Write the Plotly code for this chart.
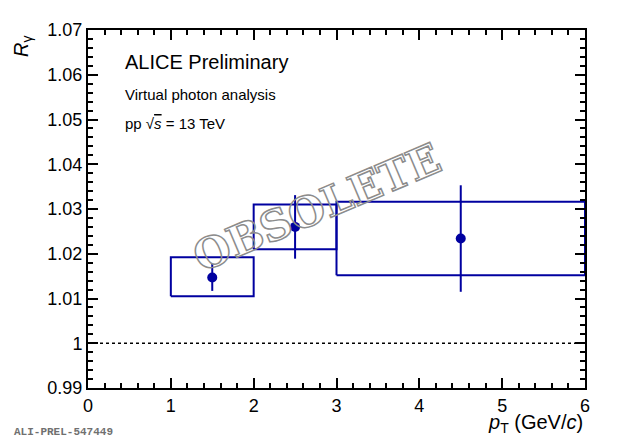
import plotly.graph_objects as go

# data
pt_center = [1.5, 2.5, 4.5]
pt_lo = [1.0, 2.0, 3.0]
pt_hi = [2.0, 3.0, 6.0]
r_gamma = [1.0147, 1.0260, 1.0234]
stat_err = [0.0030, 0.0071, 0.0119]
syst_lo = [1.0105, 1.0210, 1.0152]
syst_hi = [1.0192, 1.0310, 1.0316]

y_ticks = [0.99, 1.0, 1.01, 1.02, 1.03, 1.04, 1.05, 1.06, 1.07]
y_labels = ["0.99", "1", "1.01", "1.02", "1.03", "1.04", "1.05", "1.06", "1.07"]

blue = "#0000a0"
font = "Liberation Sans"
mono = "Liberation Mono"

# turn the watermark into hollow outlined letters (like ROOT's outline font)
outline_js = """
var gd = document.getElementById('{plot_id}');
function outline() {
  gd.querySelectorAll('.annotation-text').forEach(function (t) {
    if (t.textContent === 'OBSOLETE') {
      t.style.fill = 'none';
      t.style.stroke = '#8c8c8c';
      t.style.strokeWidth = '1.5px';
    }
  });
}
outline();
gd.on('plotly_afterplot', outline);
"""


def main():
    # systematic boxes as closed rectangles
    bx, by = [], []
    for lo, hi, ylo, yhi in zip(pt_lo, pt_hi, syst_lo, syst_hi):
        bx += [lo, hi, hi, lo, lo, None]
        by += [ylo, ylo, yhi, yhi, ylo, None]

    fig = go.Figure()

    fig.add_trace(go.Scatter(x=[0, 6], y=[1, 1], mode="lines",
                             line=dict(color="black", width=1.5, dash="dot"),
                             hoverinfo="skip"))
    fig.add_trace(go.Scatter(x=bx, y=by, mode="lines",
                             line=dict(color=blue, width=2)))
    fig.add_trace(go.Scatter(
        x=pt_center, y=r_gamma, mode="markers",
        marker=dict(color=blue, size=10),
        error_y=dict(type="data", array=stat_err, color=blue,
                     thickness=2, width=0)))

    # watermark
    fig.add_annotation(
        x=2.77, y=1.0303, xref="x", yref="y",
        text="<b>OBSOLETE</b>", showarrow=False, textangle=-23,
        font=dict(family="DejaVu Serif", size=42, color="#8c8c8c"))

    fig.add_annotation(x=0.07, y=0.91, xref="paper", yref="paper",
                       text="ALICE Preliminary", showarrow=False,
                       xanchor="left", yanchor="middle",
                       font=dict(family=font, size=20, color="black"))
    fig.add_annotation(x=0.07, y=0.82, xref="paper", yref="paper",
                       text="Virtual photon analysis", showarrow=False,
                       xanchor="left", yanchor="middle",
                       font=dict(family=font, size=15, color="black"))
    fig.add_annotation(x=0.07, y=0.738, xref="paper", yref="paper",
                       text="pp √<span style='text-decoration:overline'><i>s</i></span> = 13 TeV",
                       showarrow=False, xanchor="left", yanchor="middle",
                       font=dict(family=font, size=15, color="black"))

    # axis titles
    fig.add_annotation(x=-0.133, y=0.99, xref="paper", yref="paper",
                       text="<i>R</i><sub>γ</sub>", showarrow=False,
                       textangle=-90, xanchor="center", yanchor="top",
                       font=dict(family=font, size=20, color="black"))
    fig.add_annotation(x=1.0, y=-0.10, xref="paper", yref="paper",
                       text="<i>p</i><sub>T</sub> (GeV/<i>c</i>)", showarrow=False,
                       xanchor="right", yanchor="middle",
                       font=dict(family=font, size=20, color="black"))
    fig.add_annotation(x=-0.152, y=-0.123, xref="paper", yref="paper",
                       text="<b>ALI-PREL-547449</b>", showarrow=False,
                       xanchor="left", yanchor="middle",
                       font=dict(family=mono, size=11, color="#707070"))

    fig.update_xaxes(range=[0, 6], dtick=1, tick0=0,
                     showgrid=False, zeroline=False,
                     showline=True, linecolor="black", linewidth=2,
                     mirror="allticks", ticks="inside", ticklen=10,
                     tickwidth=2, tickcolor="black",
                     minor=dict(dtick=0.2, ticks="inside", ticklen=5,
                                tickwidth=1.5, tickcolor="black"),
                     tickfont=dict(family=font, size=18, color="black"))
    fig.update_yaxes(range=[0.99, 1.07], tickvals=y_ticks, ticktext=y_labels,
                     showgrid=False, zeroline=False,
                     showline=True, linecolor="black", linewidth=2,
                     mirror="allticks", ticks="inside", ticklen=10,
                     tickwidth=2, tickcolor="black",
                     minor=dict(dtick=0.002, tick0=0.99, ticks="inside",
                                ticklen=5, tickwidth=1.5, tickcolor="black"),
                     tickfont=dict(family=font, size=18, color="black"))

    # page body has an 8px margin, so the figure is a bit smaller than the window
    fig.update_layout(width=604, height=427, showlegend=False,
                      plot_bgcolor="white", paper_bgcolor="white",
                      margin=dict(l=80, r=27, t=14, b=47))

    fig.write_html("out.html", post_script=outline_js)


if __name__ == "__main__":
    main()
